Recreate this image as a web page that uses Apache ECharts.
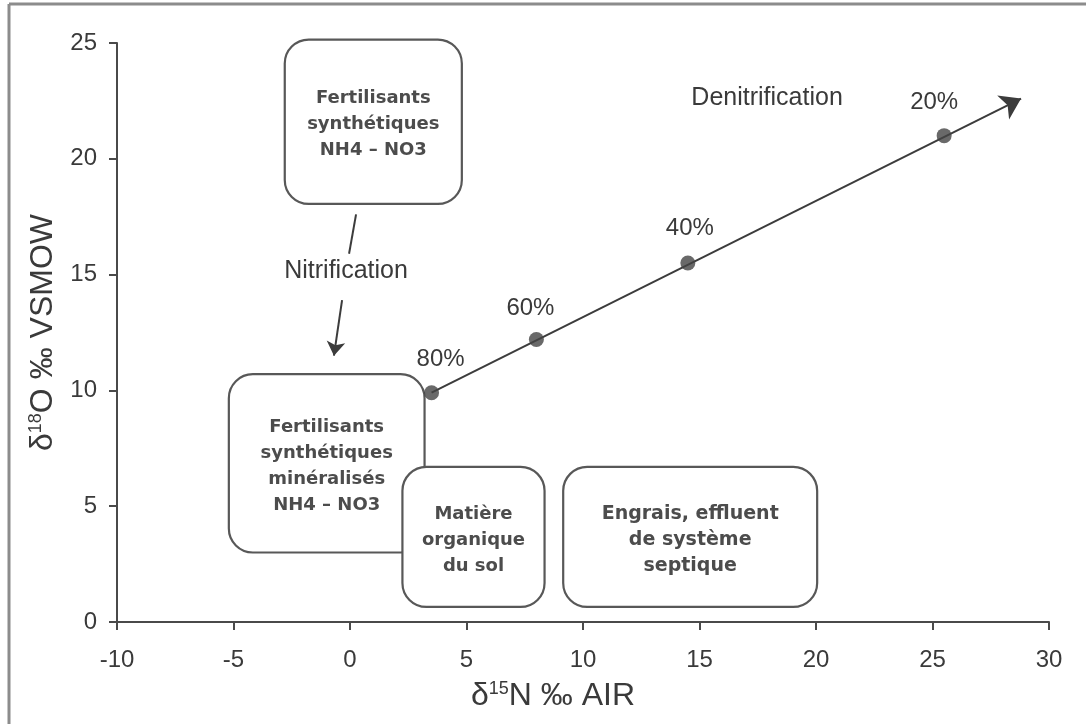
<!DOCTYPE html>
<html>
<head>
<meta charset="utf-8">
<script src="https://cdn.jsdelivr.net/npm/echarts@6/dist/echarts.min.js"></script>
<style>
  html, body { margin: 0; padding: 0; background: #ffffff; }
  #chart { width: 1086px; height: 724px; }
</style>
</head>
<body>
<div id="chart"></div>
<script>
// Axis ranges and tick step
const xRange = [-10, 30];
const yRange = [0, 25];
const tickStep = 5;

// Denitrification path: remaining-nitrate fractions along the enrichment line
const denitX = [3.5, 8.0, 14.5, 25.5];
const denitY = [9.9, 12.2, 15.5, 21.0];
const denitLabels = ['80%', '60%', '40%', '20%'];
const denitStart = [3.5, 9.9];
const denitEnd = [28.8, 22.6];

// Nitrification arrow (two segments around its caption)
const nitrifUpper = [[0.26, 17.6], [-0.04, 15.9]];
const nitrifLower = [[-0.34, 13.9], [-0.69, 11.5]];

// Source boxes: [xMin, yMin, xMax, yMax] in δ15N / δ18O units
const boxRects = [
  [-2.8, 18.05, 4.8, 25.15],
  [-5.2, 3.0, 3.2, 10.7],
  [2.25, 0.65, 8.35, 6.7],
  [9.15, 0.65, 20.05, 6.7]
];
const boxTexts = [
  'Fertilisants\nsynthétiques\nNH4 – NO3',
  'Fertilisants\nsynthétiques\nminéralisés\nNH4 – NO3',
  'Matière\norganique\ndu sol',
  'Engrais, effluent\nde système\nseptique'
];

// Free captions placed in data space
const captionTexts = ['Nitrification', 'Denitrification'];
const captionX = [-0.17, 17.9];
const captionY = [15.15, 22.6];

const ink = '#3a3a3a';
const axisFont = 'Liberation Sans, Arial, sans-serif';

// pixel nudges of the percentage tags relative to their dots
const tagNudge = [[9, -33], [-6, -31], [2, -35], [-10, -33]];

const chart = echarts.init(document.getElementById('chart'), null, { renderer: 'canvas' });

const titleRich = {
  d: { fontFamily: axisFont, fontSize: 32, color: ink },
  s: { fontFamily: axisFont, fontSize: 18, color: ink, verticalAlign: 'top', padding: [0, 0, 13, 0] },
  n: { fontFamily: axisFont, fontSize: 32, color: ink }
};

const option = {
  animation: false,
  backgroundColor: '#ffffff',
  grid: { left: 117, right: 37, top: 43, bottom: 102, containLabel: false },
  xAxis: {
    type: 'value',
    min: xRange[0], max: xRange[1], interval: tickStep,
    name: '{d|δ}{s|15}{n|N ‰ AIR}',
    nameLocation: 'middle',
    nameGap: 58,
    nameTextStyle: { padding: [0, 60, 0, 0], rich: titleRich },
    axisLine: { onZero: false, lineStyle: { color: '#4a4a4a', width: 2 } },
    axisTick: { show: true, length: 8, lineStyle: { color: '#4a4a4a', width: 2 } },
    axisLabel: { fontFamily: axisFont, fontSize: 24, color: ink, margin: 26 },
    splitLine: { show: false }
  },
  yAxis: {
    type: 'value',
    min: yRange[0], max: yRange[1], interval: tickStep,
    name: '{d|δ}{s|18}{n|O ‰ VSMOW}',
    nameLocation: 'middle',
    nameGap: 58,
    nameTextStyle: { rich: titleRich },
    axisLine: { onZero: false, lineStyle: { color: '#4a4a4a', width: 2 } },
    axisTick: { show: true, length: 8, lineStyle: { color: '#4a4a4a', width: 2 } },
    axisLabel: { fontFamily: axisFont, fontSize: 24, color: ink, margin: 20 },
    splitLine: { show: false }
  },
  graphic: [
    { type: 'line', shape: { x1: 9, y1: 4, x2: 9, y2: 724 }, style: { stroke: '#8c8c8c', lineWidth: 3 } },
    { type: 'line', shape: { x1: 9, y1: 4, x2: 1086, y2: 4 }, style: { stroke: '#8c8c8c', lineWidth: 3 } }
  ],
  series: [
    {
      type: 'custom',
      name: 'sources',
      coordinateSystem: 'cartesian2d',
      z: 2,
      silent: true,
      data: boxRects.map((r, i) => ({ value: r.concat(i) })),
      renderItem: function (params, api) {
        const tl = api.coord([api.value(0), api.value(3)]);
        const br = api.coord([api.value(2), api.value(1)]);
        const idx = api.value(4);
        return {
          type: 'rect',
          shape: { x: tl[0], y: tl[1], width: br[0] - tl[0], height: br[1] - tl[1], r: 24 },
          style: { fill: '#ffffff', stroke: '#585858', lineWidth: 2.2 },
          textContent: {
            style: {
              text: boxTexts[idx],
              fontFamily: 'DejaVu Sans, sans-serif',
              fontWeight: 'bold',
              fontSize: idx === 3 ? 19 : 18,
              lineHeight: 26,
              fill: '#4c4c4c',
              align: 'center',
              verticalAlign: 'middle'
            }
          },
          textConfig: { position: 'inside', offset: [0, 3] }
        };
      }
    },
    {
      type: 'lines',
      name: 'denitrification',
      coordinateSystem: 'cartesian2d',
      z: 4,
      symbol: ['none', 'arrow'],
      symbolSize: 20,
      lineStyle: { color: '#3c3c3c', width: 2, opacity: 1 },
      data: [{ coords: [denitStart, denitEnd] }]
    },
    {
      type: 'lines',
      name: 'nitrification',
      coordinateSystem: 'cartesian2d',
      z: 4,
      lineStyle: { color: '#3c3c3c', width: 2, opacity: 1 },
      data: [
        { coords: nitrifUpper, symbol: ['none', 'none'] },
        { coords: nitrifLower, symbol: ['none', 'arrow'], symbolSize: 14 }
      ]
    },
    {
      type: 'scatter',
      name: 'fractions',
      z: 5,
      symbol: 'circle',
      symbolSize: 15,
      itemStyle: { color: '#434343' },
      data: denitX.map((x, i) => [x, denitY[i]])
    },
    {
      type: 'custom',
      name: 'fraction tags',
      coordinateSystem: 'cartesian2d',
      z: 6,
      silent: true,
      data: denitX.map((x, i) => [x, denitY[i], i]),
      renderItem: function (params, api) {
        const p = api.coord([api.value(0), api.value(1)]);
        const k = api.value(2);
        return {
          type: 'text',
          x: p[0] + tagNudge[k][0], y: p[1] + tagNudge[k][1],
          style: {
            text: denitLabels[k],
            fontFamily: axisFont,
            fontSize: 24,
            fill: ink,
            align: 'center',
            verticalAlign: 'middle'
          }
        };
      }
    },
    {
      type: 'custom',
      name: 'captions',
      coordinateSystem: 'cartesian2d',
      z: 6,
      silent: true,
      data: captionX.map((x, i) => [x, captionY[i], i]),
      renderItem: function (params, api) {
        const p = api.coord([api.value(0), api.value(1)]);
        return {
          type: 'text',
          x: p[0], y: p[1],
          style: {
            text: captionTexts[api.value(2)],
            fontFamily: axisFont,
            fontSize: 25,
            fill: ink,
            align: 'center',
            verticalAlign: 'middle'
          }
        };
      }
    }
  ]
};

chart.setOption(option);
</script>
</body>
</html>
